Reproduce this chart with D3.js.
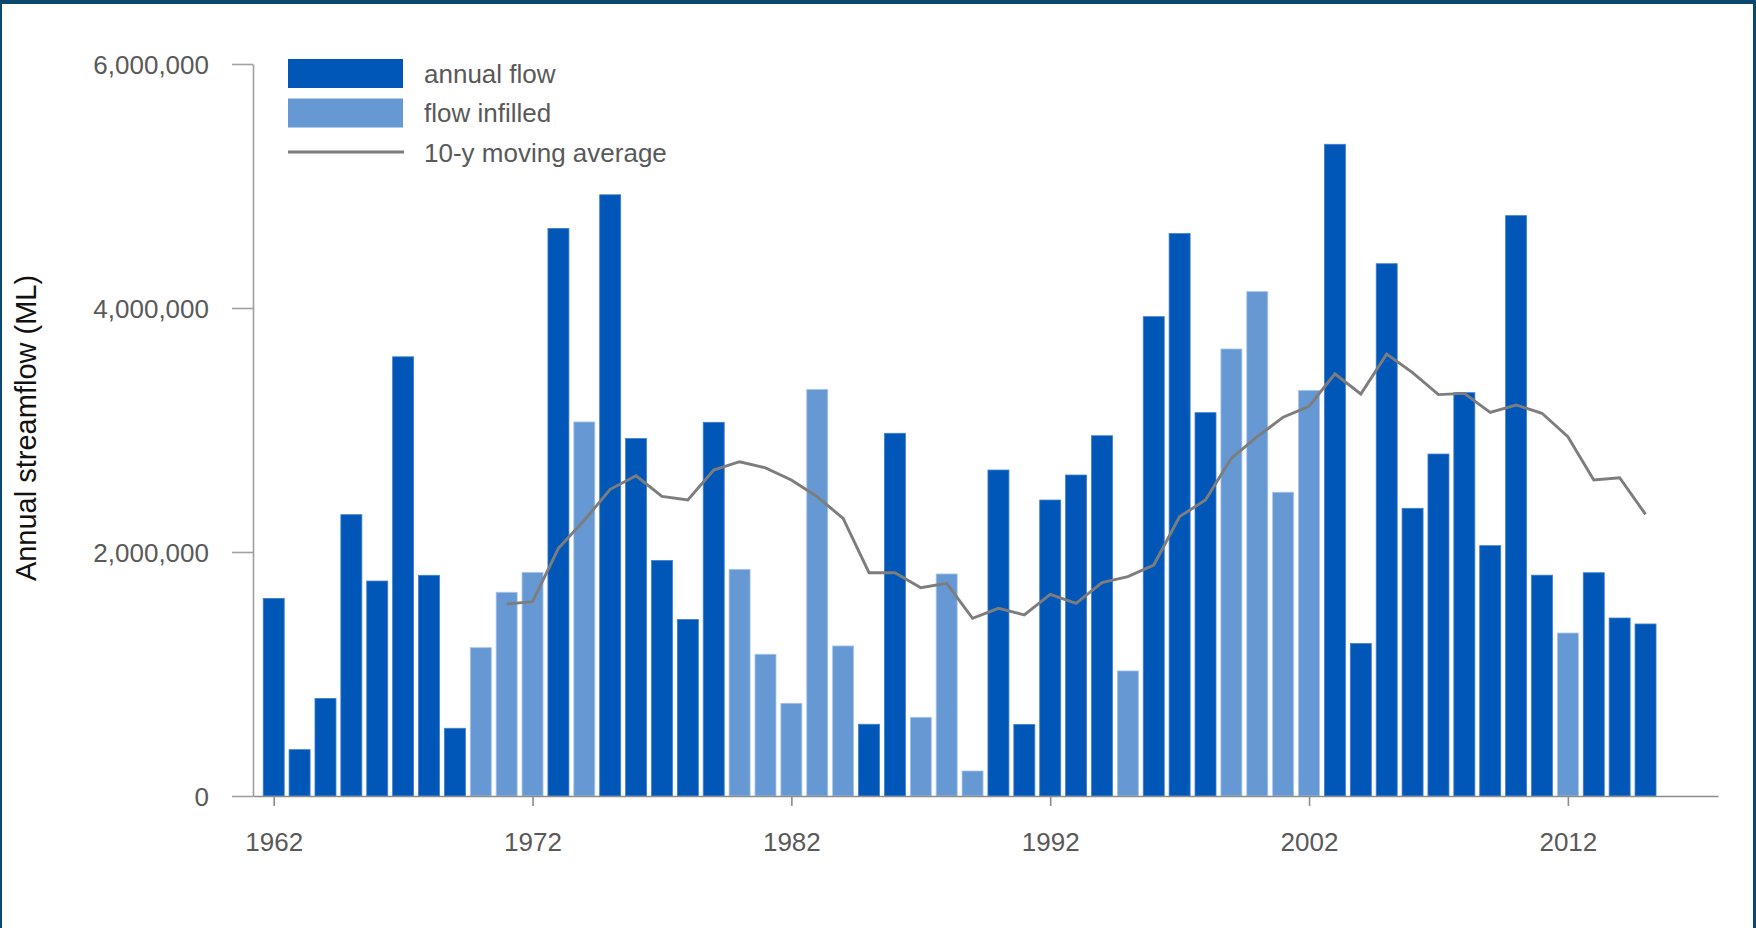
<!DOCTYPE html>
<html>
<head>
<meta charset="utf-8">
<script src="https://cdn.jsdelivr.net/npm/d3@7"></script>
<style>
  html, body { margin: 0; padding: 0; background: #fff; }
  svg { display: block; }
  text { font-family: "Liberation Sans", Arial, Helvetica, sans-serif; }
</style>
</head>
<body>
<svg id="chart" width="1756" height="928"></svg>
<script>
// ---- data ----
const years = d3.range(1962, 2016);
const flow = [
  1.62, 0.38, 0.80, 2.306, 1.762, 3.60, 1.809, 0.555, 1.216, 1.67,
  1.833, 4.652, 3.066, 4.928, 2.93, 1.93, 1.447, 3.063, 1.858, 1.162,
  0.76, 3.333, 1.23, 0.588, 2.973, 0.645, 1.82, 0.205, 2.672, 0.586,
  2.426, 2.631, 2.953, 1.025, 3.929, 4.61, 3.142, 3.664, 4.134, 2.49,
  3.325, 5.342, 1.25, 4.363, 2.358, 2.803, 3.306, 2.052, 4.757, 1.81,
  1.336, 1.83, 1.459, 1.41
].map(v => v * 1e6);
// 1 = infilled, 0 = observed annual flow
const infilled = [
  0,0,0,0,0,0,0,0,1,1,
  1,0,1,0,0,0,0,0,1,1,
  1,1,1,0,0,1,1,1,0,0,
  0,0,0,1,0,0,0,1,1,1,
  1,0,0,0,0,0,0,0,0,0,
  1,0,0,0
];
const maYears = d3.range(1971, 2016);
const movingAvg = [
  1.574, 1.593, 2.03, 2.26, 2.514, 2.625, 2.455, 2.426, 2.672, 2.74,
  2.69, 2.59, 2.453, 2.275, 1.83, 1.83, 1.707, 1.743, 1.456, 1.538,
  1.484, 1.653, 1.579, 1.749, 1.798, 1.893, 2.29, 2.426, 2.768, 2.945,
  3.105, 3.195, 3.46, 3.295, 3.623, 3.47, 3.29, 3.30, 3.145, 3.205,
  3.137, 2.945, 2.59, 2.609, 2.309
].map(v => v * 1e6);
const yTicks = [0, 2000000, 4000000, 6000000];
const xTicks = [1962, 1972, 1982, 1992, 2002, 2012];
const legendLabels = ["annual flow", "flow infilled", "10-y moving average"];

// ---- styles ----
const colDark = "#0057b8", colLight = "#6699d4", colLine = "#7d7d7d";
const textCol = "#595959";
const fs = 26;

const svg = d3.select("#chart");
svg.append("rect").attr("width", 1756).attr("height", 928).attr("fill", "#fff");

const x = d3.scaleLinear().domain([1961.2, 2017.8]).range([253, 1718]);
const y = d3.scaleLinear().domain([0, 6000000]).range([796, 64]);
const barW = 21;

// bars
svg.append("g").selectAll("rect").data(years).join("rect")
  .attr("x", (d) => x(d) - barW / 2)
  .attr("width", barW)
  .attr("y", (d, i) => y(flow[i]))
  .attr("height", (d, i) => y(0) - y(flow[i]))
  .attr("fill", (d, i) => infilled[i] ? colLight : colDark)
  .attr("stroke", (d, i) => infilled[i] ? "#a9c6ec" : "#3f7fcf")
  .attr("stroke-width", 0.8);

// moving average line
const line = d3.line().x((d) => x(d)).y((d, i) => y(movingAvg[i]));
svg.append("path").datum(maYears)
  .attr("d", line)
  .attr("fill", "none")
  .attr("stroke", colLine)
  .attr("stroke-width", 2.9)
  .attr("stroke-linejoin", "miter");

// y axis
const yAxis = svg.append("g").attr("transform", "translate(253,0)")
  .call(d3.axisLeft(y).tickValues(yTicks).tickSize(21).tickSizeOuter(0)
    .tickPadding(23).tickFormat(d3.format(",")));
yAxis.select(".domain").attr("stroke", "#a0a0a0").attr("stroke-width", 1.6);
yAxis.selectAll(".tick line").attr("stroke", "#a0a0a0").attr("stroke-width", 1.6);
yAxis.selectAll(".tick text").attr("fill", textCol).attr("font-size", fs)
  .attr("font-family", "'Liberation Sans', Arial, sans-serif").attr("dy", "0.36em");

// x axis
const xAxis = svg.append("g").attr("transform", "translate(0,796)")
  .call(d3.axisBottom(x).tickValues(xTicks).tickSize(10).tickSizeOuter(0)
    .tickPadding(27).tickFormat(d3.format("d")));
xAxis.select(".domain").attr("stroke", "#8c8c8c").attr("stroke-width", 1.6);
xAxis.selectAll(".tick line").attr("stroke", "#8c8c8c").attr("stroke-width", 1.6);
xAxis.selectAll(".tick text").attr("fill", textCol).attr("font-size", fs)
  .attr("font-family", "'Liberation Sans', Arial, sans-serif");

// y axis title
svg.append("text")
  .attr("transform", "translate(36,428) rotate(-90)")
  .attr("text-anchor", "middle")
  .attr("font-size", 29)
  .attr("fill", "#111")
  .text("Annual streamflow (ML)");

// legend
const lg = svg.append("g");
lg.append("rect").attr("x", 288).attr("y", 59).attr("width", 115).attr("height", 29).attr("fill", colDark);
lg.append("rect").attr("x", 288).attr("y", 98.5).attr("width", 115).attr("height", 29).attr("fill", colLight);
lg.append("line").attr("x1", 288).attr("x2", 404).attr("y1", 152).attr("y2", 152)
  .attr("stroke", colLine).attr("stroke-width", 2.9);
const lgY = [82.5, 122, 161.5];
lg.selectAll("text.lbl").data(legendLabels).join("text").attr("class", "lbl")
  .attr("x", 424).attr("y", (d, i) => lgY[i])
  .attr("font-size", fs).attr("fill", textCol)
  .text((d) => d);

// frame
const frameCol = "#0b4870";
svg.append("rect").attr("x", 0).attr("y", 0).attr("width", 1756).attr("height", 4).attr("fill", frameCol);
svg.append("rect").attr("x", 0).attr("y", 0).attr("width", 2).attr("height", 928).attr("fill", frameCol);
svg.append("rect").attr("x", 1753).attr("y", 0).attr("width", 3).attr("height", 928).attr("fill", frameCol);
</script>
</body>
</html>
